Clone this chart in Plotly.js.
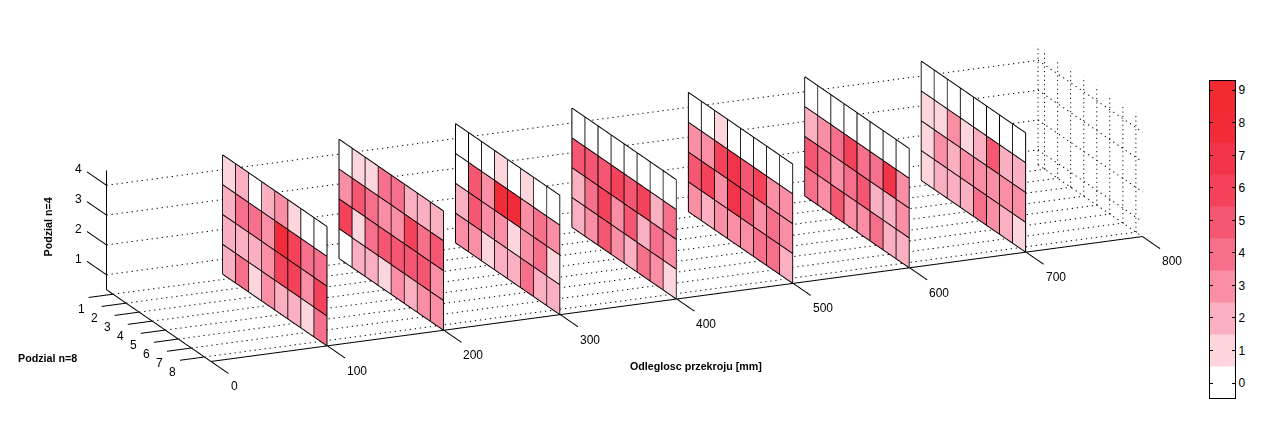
<!DOCTYPE html>
<html>
<head>
<meta charset="utf-8">
<script src="https://cdn.plot.ly/plotly-3.0.1.min.js"></script>
<style>body{margin:0;background:#fff}</style>
</head>
<body>
<div id="chart" style="width:1283px;height:434px;"></div>
<script>
// cross sections along the duct, rows go top (z=4) to bottom (z=1), columns y=1..8
var sections = [100, 200, 300, 400, 500, 600, 700];
var slice100 = [[1,2,0,2,3,1,0,0],[2,4,4,3,8,6,4,4],[2,2,2,3,6,6,3,6],[2,4,1,3,2,2,1,4]];
var slice200 = [[0,1,1,4,4,2,2,2],[3,5,4,3,3,6,4,5],[6,1,4,5,5,5,5,3],[0,2,2,1,3,2,3,3]];
var slice300 = [[0,0,0,1,0,1,0,0],[0,5,3,8,8,3,4,3],[2,5,3,3,1,3,4,1],[3,3,1,2,2,4,2,2]];
var slice400 = [[0,0,0,0,0,0,0,0],[5,5,5,6,5,6,2,4],[2,4,6,3,5,2,4,3],[2,3,5,3,2,4,3,1]];
var slice500 = [[0,0,1,0,0,0,0,0],[3,3,6,7,5,6,3,3],[5,6,3,7,5,3,4,3],[3,2,3,3,3,4,4,2]];
var slice600 = [[0,0,0,0,0,0,0,0],[2,3,4,6,4,4,7,3],[5,4,3,4,5,2,2,3],[4,3,5,3,3,4,2,2]];
var slice700 = [[0,0,0,0,0,0,0,0],[1,1,3,1,2,5,2,2],[1,3,2,3,3,3,3,3],[1,2,2,2,4,3,2,1]];
var slices = [slice100, slice200, slice300, slice400, slice500, slice600, slice700];

var palette = ['#ffffff','#fdd5dd','#fab0c0','#f98ea4','#f7708b','#f55672','#f3425a','#f1344a','#f12b37','#f12a30'];
var levels = [0,1,2,3,4,5,6,7,8,9];
var levelEdges = [-0.46,0.52,1.5,2.48,3.46,4.44,5.42,6.4,7.38,8.36,9.3];

var xTicks = [0,100,200,300,400,500,600,700,800];
var yTicks = [1,2,3,4,5,6,7,8];
var zTicks = [1,2,3,4];
var xLim = [0,800], yLim = [0.5,8.5], zLim = [0.5,4.5];

// invisible scene box has to be bigger than the axes, or ticks get clipped
var xBox = [-60,830], yBox = [-3,11.5], zBox = [0,5];
var pxX = 1.0075*1017/800, pxY = 260/8, pxZ = 126/4;
var sceneScale = 4.58/1000;
var camDist = 10;
// pans the picture on the page, in scene units
var camCenter = {x:-0.0159, y:0.0070, z:-0.065};

function addSeg(t, a, b) {
    t.x.push(a[0], b[0], null);
    t.y.push(a[1], b[1], null);
    t.z.push(a[2], b[2], null);
}
// dotted line made of short pieces, plotly's dash is far too long at this scale
function addDots(t, a, b, period) {
    var len = Math.abs(b[0]-a[0]) + Math.abs(b[1]-a[1]) + Math.abs(b[2]-a[2]);
    var n = Math.round(len/period);
    for (var i = 0; i <= n; i++) {
        var f0 = i/n, f1 = (i+0.25)/n;
        if (i === n) f1 = f0 + 0.001;
        addSeg(t, [a[0]+(b[0]-a[0])*f0, a[1]+(b[1]-a[1])*f0, a[2]+(b[2]-a[2])*f0],
                  [a[0]+(b[0]-a[0])*f1, a[1]+(b[1]-a[1])*f1, a[2]+(b[2]-a[2])*f1]);
    }
}
function lineTrace(color, width) {
    return {type:'scatter3d', mode:'lines', x:[], y:[], z:[], hoverinfo:'skip', showlegend:false,
            line:{color:color, width:width}, connectgaps:false};
}

var traces = [];

// dotted grid
var dotX = 4.3, dotY = 0.32, dotZ = 0.15;
var grid = lineTrace('#000000', 2);
zTicks.forEach(function (z) {
    addDots(grid, [xLim[0],yLim[0],z], [xLim[1],yLim[0],z], dotX);
    addDots(grid, [xLim[1],yLim[0],z], [xLim[1],yLim[1],z], dotY);
});
yTicks.forEach(function (y) {
    addDots(grid, [xLim[0],y,zLim[0]], [xLim[1],y,zLim[0]], dotX);
    addDots(grid, [xLim[1],y,zLim[0]], [xLim[1],y,zLim[1]], dotZ);
});
xTicks.forEach(function (x) {
    addDots(grid, [x,yLim[0],zLim[0]], [x,yLim[1],zLim[0]], dotY);
});
addDots(grid, [xLim[1],yLim[0],zLim[0]], [xLim[1],yLim[0],zLim[1]], dotZ);
traces.push(grid);

// axes and ticks
var axes = lineTrace('#000000', 2);
addSeg(axes, [0,yLim[0],zLim[0]], [0,yLim[0],zLim[1]]);
addSeg(axes, [0,yLim[0],zLim[0]], [0,yLim[1],zLim[0]]);
addSeg(axes, [0,yLim[1],zLim[0]], [800,yLim[1],zLim[0]]);
xTicks.forEach(function (x) { addSeg(axes, [x,yLim[1],zLim[0]], [x,yLim[1]+1.35,zLim[0]]); });
yTicks.forEach(function (y) { addSeg(axes, [0,y,zLim[0]], [-21,y,zLim[0]]); });
zTicks.forEach(function (z) { addSeg(axes, [0,yLim[0],z], [0,yLim[0]-1.5,z]); });
traces.push(axes);

// one mesh per slice, each cell two triangles
sections.forEach(function (sec, s) {
    var m = {type:'mesh3d', x:[], y:[], z:[], i:[], j:[], k:[], facecolor:[], hoverinfo:'skip', flatshading:true,
             lighting:{ambient:1, diffuse:0, specular:0, fresnel:0, roughness:1}, showscale:false};
    var edges = lineTrace('#000000', 2);
    var rows = slices[s];
    rows.forEach(function (row, r) {
        var zTop = zLim[1] - r, zBot = zTop - 1;
        row.forEach(function (v, c) {
            var y0 = yLim[0] + c, y1 = y0 + 1, n = m.x.length;
            m.x.push(sec, sec, sec, sec);
            m.y.push(y0, y1, y1, y0);
            m.z.push(zBot, zBot, zTop, zTop);
            m.i.push(n, n); m.j.push(n+1, n+2); m.k.push(n+2, n+3);
            m.facecolor.push(palette[v], palette[v]);
        });
    });
    for (var r = 0; r <= rows.length; r++) {
        addSeg(edges, [sec-0.3,yLim[0],zLim[0]+r], [sec-0.3,yLim[1],zLim[0]+r]);
    }
    for (var c = 0; c <= rows[0].length; c++) {
        addSeg(edges, [sec-0.3,yLim[0]+c,zLim[0]], [sec-0.3,yLim[0]+c,zLim[1]]);
    }
    traces.push(m, edges);
});

// colour scale on the right
traces.push({type:'heatmap', x:[0,1], y:levelEdges, z:levels.map(function (l) { return [l]; }),
    colorscale:levels.map(function (l) { return [l/9, palette[l]]; }),
    zmin:0, zmax:9, showscale:false, hoverinfo:'skip', xaxis:'x', yaxis:'y'});

var sceneNotes = [];
function note(x, y, z, text, anchor) {
    sceneNotes.push({x:x, y:y, z:z, text:text, showarrow:false, xanchor:anchor||'center', yanchor:'middle',
                     font:{family:'Liberation Sans, Arial', size:12, color:'#000'}});
}
xTicks.forEach(function (x) { note(x, yLim[1]+1.35, zLim[0]-0.43, String(x), 'left'); });
yTicks.forEach(function (y) { note(-27, y, zLim[0]-0.37, String(y)); });
zTicks.forEach(function (z) { note(0, yLim[0]-2.17, z-0.12, String(z)); });

function hiddenAxis(range) {
    return {visible:false, range:range, autorange:false, showspikes:false, showgrid:false, zeroline:false, showbackground:false};
}
function span(b) { return b[1]-b[0]; }

var titleFont = {family:'Liberation Sans, Arial', size:10.7, color:'#000'};
function title(px, py, text, angle) {
    return {xref:'paper', yref:'paper', x:px/1283, y:(434-py)/434, text:'<b>'+text+'</b>', textangle:angle||0,
            showarrow:false, xanchor:'center', yanchor:'middle', font:titleFont};
}
var layout = {
    width:1283, height:434, margin:{l:0,r:0,t:0,b:0}, paper_bgcolor:'#fff', showlegend:false,
    scene:{
        domain:{x:[0,1200/1283], y:[0,1]},
        bgcolor:'rgba(0,0,0,0)',
        xaxis:hiddenAxis(xBox),
        yaxis:hiddenAxis([yBox[1],yBox[0]]),
        zaxis:hiddenAxis(zBox),
        aspectmode:'manual',
        aspectratio:{x:pxX*span(xBox)*sceneScale, y:pxY*span(yBox)*sceneScale, z:pxZ*span(zBox)*sceneScale},
        camera:{projection:{type:'orthographic'}, up:{x:0,y:0,z:1}, center:camCenter,
                eye:{x:-0.385*camDist+camCenter.x, y:-0.8715*camDist+camCenter.y, z:0.3036*camDist+camCenter.z}},
        annotations:sceneNotes
    },
    xaxis:{domain:[1210/1283,1235/1283], range:[0,1], showticklabels:false, ticks:'', showline:true, mirror:true, linecolor:'#000', linewidth:1, fixedrange:true, showgrid:false, zeroline:false},
    yaxis:{domain:[(434-398)/434,(434-80.5)/434], range:[levelEdges[0],levelEdges[10]], side:'right', tickvals:levels, ticks:'inside', ticklen:3, tickcolor:'#000',
           showline:true, mirror:'ticks', linecolor:'#000', linewidth:1, showgrid:false, zeroline:false, fixedrange:true,
           tickfont:{family:'Liberation Sans, Arial', size:12, color:'#000'}},
    annotations:[
        title(47.5, 227, 'Podzial n=4', -90),
        title(47, 358, 'Podzial n=8'),
        title(696, 366, 'Odleglosc przekroju [mm]')
    ]
};

Plotly.newPlot('chart', traces, layout, {displayModeBar:false});
</script>
</body>
</html>
